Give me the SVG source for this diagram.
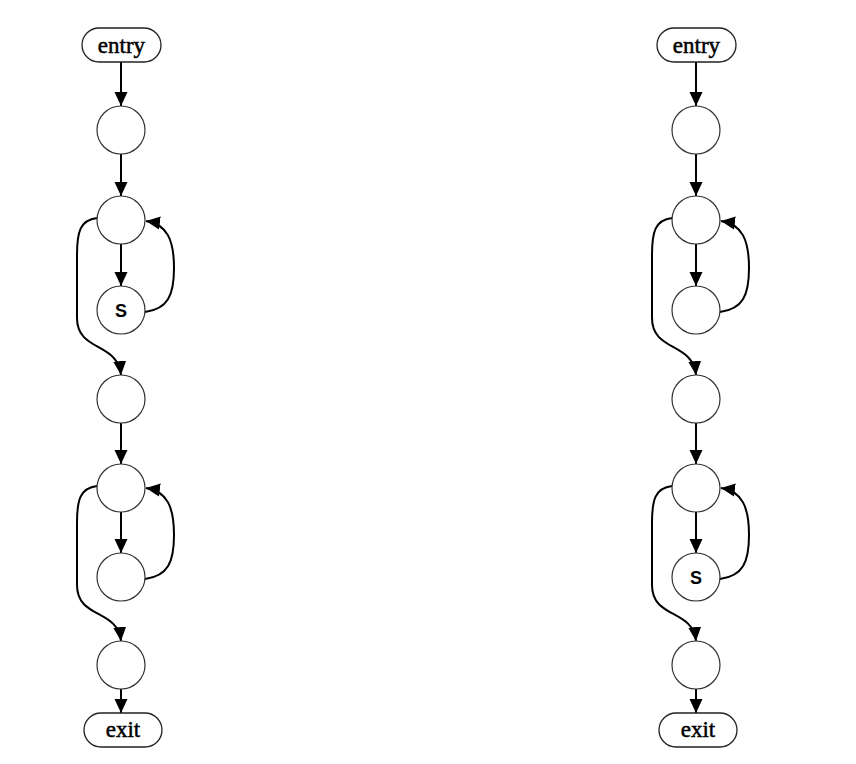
<svg xmlns="http://www.w3.org/2000/svg" width="856" height="764" viewBox="0 0 856 764">
<defs>
<marker id="ah" markerUnits="userSpaceOnUse" markerWidth="14" markerHeight="14" refX="14" refY="7" orient="auto" viewBox="0 0 14 14">
<path d="M0,0.5 L14,7 L0,13.5 z" fill="#000"/>
</marker>
</defs>
<style>
.term{fill:#fff;stroke:#222;stroke-width:1.3}
.nd{fill:#fff;stroke:#333;stroke-width:1.2}
.lbl{font-family:"Liberation Serif",serif;font-size:23px;fill:#000;stroke:#000;stroke-width:0.5;text-anchor:middle}
.s{font-family:"Liberation Sans",sans-serif;font-size:18px;font-weight:bold;fill:#000;text-anchor:middle}
.e{fill:none;stroke:#000;stroke-width:2;marker-end:url(#ah)}
</style>
<rect width="856" height="764" fill="#fff"/>
<g id="connectors">
<g id="conn-left">
<path class="e" d="M121,62 L121,106"/>
<path class="e" d="M121,154 L121,196"/>
<path class="e" d="M121,244 L121,286"/>
<path class="e" d="M97,218 C80,220 77,232 77,255 L77,318 C77,352 118,342 121,375"/>
<path class="e" d="M145,312 C168,309 174,295 174,268 C174,240 167,224 146,221"/>
<path class="e" d="M121,423 L121,464"/>
<path class="e" d="M121,512 L121,553"/>
<path class="e" d="M97,486 C80,488 77,500 77,523 L77,585 C77,619 118,609 121,641"/>
<path class="e" d="M145,579 C168,576 174,562 174,535 C174,507 167,491 146,488"/>
<path class="e" d="M121,689 L121,713"/>
</g>
<g id="conn-right" transform="translate(575,0)">
<path class="e" d="M121,62 L121,106"/>
<path class="e" d="M121,154 L121,196"/>
<path class="e" d="M121,244 L121,286"/>
<path class="e" d="M97,218 C80,220 77,232 77,255 L77,318 C77,352 118,342 121,375"/>
<path class="e" d="M145,312 C168,309 174,295 174,268 C174,240 167,224 146,221"/>
<path class="e" d="M121,423 L121,464"/>
<path class="e" d="M121,512 L121,553"/>
<path class="e" d="M97,486 C80,488 77,500 77,523 L77,585 C77,619 118,609 121,641"/>
<path class="e" d="M145,579 C168,576 174,562 174,535 C174,507 167,491 146,488"/>
<path class="e" d="M121,689 L121,713"/>
</g>
</g>
<g id="nodes-left">
<g id="L-entry"><rect class="term" x="82" y="28" width="79" height="34" rx="17"/><text class="lbl" x="121.5" y="53">entry</text></g>
<g id="L-n1"><circle class="nd" cx="121" cy="130" r="24"/></g>
<g id="L-n2"><circle class="nd" cx="121" cy="220" r="24"/></g>
<g id="L-n3"><circle class="nd" cx="121" cy="310" r="24"/><text class="s" x="121" y="317">S</text></g>
<g id="L-n4"><circle class="nd" cx="121" cy="399" r="24"/></g>
<g id="L-n5"><circle class="nd" cx="121" cy="488" r="24"/></g>
<g id="L-n6"><circle class="nd" cx="121" cy="577" r="24"/></g>
<g id="L-n7"><circle class="nd" cx="121" cy="665" r="24"/></g>
<g id="L-exit"><rect class="term" x="84" y="713" width="78" height="34" rx="17"/><text class="lbl" x="123" y="737">exit</text></g>
</g>
<g id="nodes-right" transform="translate(575,0)">
<g id="R-entry"><rect class="term" x="82" y="28" width="79" height="34" rx="17"/><text class="lbl" x="121.5" y="53">entry</text></g>
<g id="R-n1"><circle class="nd" cx="121" cy="130" r="24"/></g>
<g id="R-n2"><circle class="nd" cx="121" cy="220" r="24"/></g>
<g id="R-n3"><circle class="nd" cx="121" cy="310" r="24"/></g>
<g id="R-n4"><circle class="nd" cx="121" cy="399" r="24"/></g>
<g id="R-n5"><circle class="nd" cx="121" cy="488" r="24"/></g>
<g id="R-n6"><circle class="nd" cx="121" cy="577" r="24"/><text class="s" x="121" y="584">S</text></g>
<g id="R-n7"><circle class="nd" cx="121" cy="665" r="24"/></g>
<g id="R-exit"><rect class="term" x="84" y="713" width="78" height="34" rx="17"/><text class="lbl" x="123" y="737">exit</text></g>
</g>
</svg>
